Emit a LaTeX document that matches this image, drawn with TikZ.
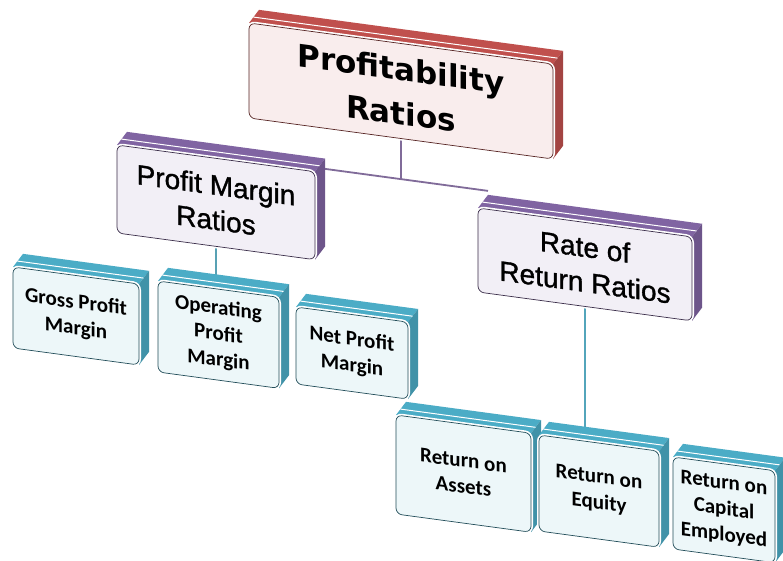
\documentclass[tikz,border=0pt]{standalone}
\usepackage{fontspec}
\usetikzlibrary{calc}
\newfontfamily\topfont{DejaVu Sans}
\newfontfamily\midfont[FakeBold=1.2]{Liberation Sans}
\newfontfamily\lowfont{Carlito}
\definecolor{bred}{HTML}{C0504D}
\definecolor{bpurple}{HTML}{8064A2}
\definecolor{bcyan}{HTML}{4BACC6}
\pgfdeclarelayer{back}
\pgfsetlayers{back,main}
\tikzset{
  frontbox/.style={rectangle, rounded corners=6pt, transform shape, align=center,
    inner sep=0pt, line width=0.7pt, preaction={draw=white, line width=4pt}},
  linkline/.style={line width=1.8pt},
  topfnt/.style={font=\topfont\bfseries\fontsize{31}{44}\selectfont},
  midfnt/.style={font=\midfont\fontsize{28}{35}\selectfont},
  lowfnt/.style={font=\lowfont\bfseries\fontsize{21}{26}\selectfont}
}
% #1 name, #2 X left, #3 Y top (image), #4 width, #5 height, #6 colour, #7 font style, #8 text
\newcommand\tdbox[8]{%
  \pgfmathsetmacro\yu{-#3+0.135*#2}%
  \coordinate (#1-ftl) at (#2,\yu);
  \coordinate (#1-ftr) at (#2+#4,\yu);
  \coordinate (#1-fbl) at (#2,\yu-#5);
  \coordinate (#1-fbr) at (#2+#4,\yu-#5);
  \coordinate (#1-btl) at (#2+10,\yu+14.5);
  \coordinate (#1-btr) at (#2+#4+10,\yu+14.5);
  \coordinate (#1-bbr) at (#2+#4+10,\yu-#5+14.5);
  \fill[#6] (#1-ftl) -- (#1-btl) -- (#1-btr) -- (#1-ftr) -- cycle;
  \fill[#6!85!black] (#1-ftr) -- (#1-btr) -- (#1-bbr) -- (#1-fbr) -- cycle;
  \draw[white, line width=1pt] ($(#1-ftl)!0.45!(#1-btl)$) -- ($(#1-ftr)!0.45!(#1-btr)$);
  \node[frontbox, #7, draw=#6!45!black, fill=#6!10!white,
        minimum width=#4pt, minimum height=#5pt] (#1) at (#2+#4/2, \yu-#5/2) {#8};
}
\begin{document}
\begin{tikzpicture}[x=1pt, y=1pt]
\begin{pgfonlayer}{back}
  \fill[white] (0,0) rectangle (783,-561);
\end{pgfonlayer}
\useasboundingbox (0,0) rectangle (783,-561);
\begin{scope}[yslant=-0.135]
  \tdbox{top}{249}{23}{304}{95}{bred}{topfnt}{Profitability\\Ratios}
  \tdbox{pm}{117}{145}{198}{88}{bpurple}{midfnt}{Profit Margin\\Ratios}
  \tdbox{rr}{478}{208}{214}{84}{bpurple}{midfnt}{Rate of\\Return Ratios}
  \tdbox{gross}{13}{267}{126}{81}{bcyan}{lowfnt}{Gross Profit\\Margin}
  \tdbox{op}{158}{281}{121}{91}{bcyan}{lowfnt}{Operating\\Profit\\Margin}
  \tdbox{net}{296}{307}{112}{77}{bcyan}{lowfnt}{Net Profit\\Margin}
  \tdbox{roa}{396}{415}{135}{99}{bcyan}{lowfnt}{Return on\\Assets}
  \tdbox{roe}{539}{435}{120}{96}{bcyan}{lowfnt}{Return on\\Equity}
  \tdbox{roce}{673}{457}{102}{92}{bcyan}{lowfnt}{Return on\\Capital\\Employed}
  \coordinate (barL) at (216,-125);
  \coordinate (barM) at (401,-125);
  \coordinate (barR) at (488,-125);
\end{scope}
\begin{pgfonlayer}{back}
  \draw[linkline, bpurple!75!gray] (barL) -- (barR);
  \draw[linkline, bpurple!75!gray] (top.south) -- (barM);
  \draw[linkline, bcyan!75!gray] (pm.south) -- (pm.south |- op.north);
  \draw[linkline, bcyan!85!gray] (rr.south) -- (rr.south |- roe.north);
\end{pgfonlayer}
\end{tikzpicture}
\end{document}
